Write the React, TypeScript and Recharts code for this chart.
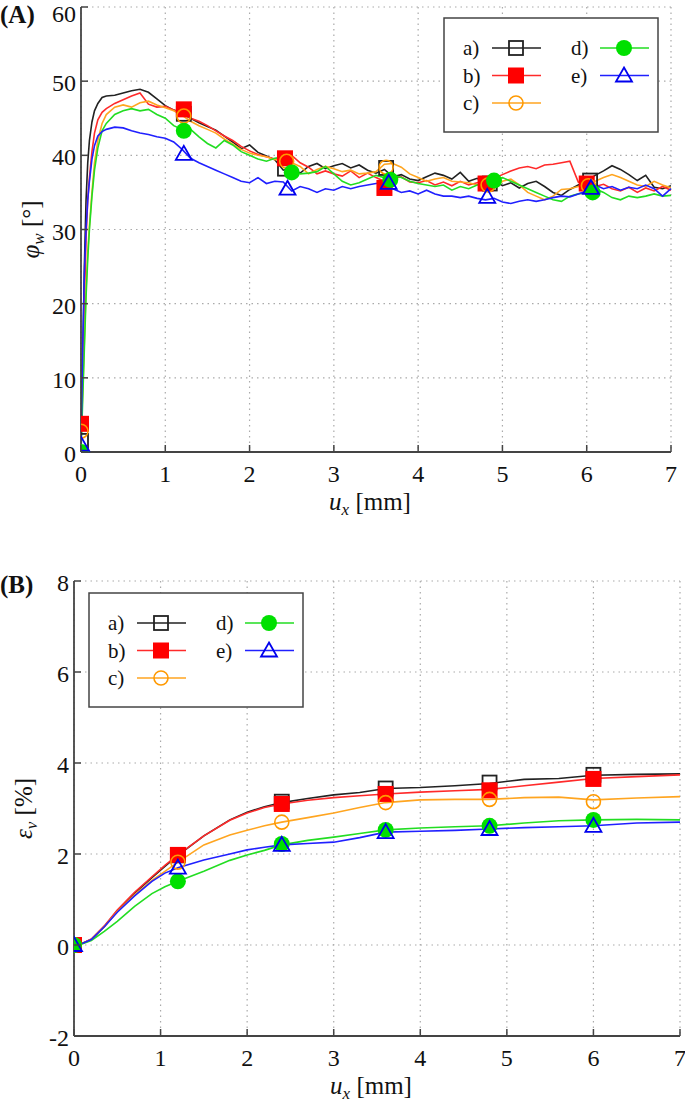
import React from "react";
import { ComposedChart, Line, Scatter, XAxis, YAxis, CartesianGrid, Legend, Label } from "recharts";

// ---- panel (A): wall friction angle vs. horizontal displacement ----
const uxA = [
  0, 0.02, 0.04, 0.06, 0.08, 0.1, 0.13, 0.16, 0.2, 0.25, 0.3,
  0.4, 0.5, 0.6, 0.7, 0.8, 0.9, 1.0,
  1.1, 1.2, 1.3, 1.4, 1.5, 1.6, 1.7, 1.8, 1.9, 2.0,
  2.1, 2.2, 2.3, 2.4, 2.5, 2.6, 2.7, 2.8, 2.9, 3.0,
  3.1, 3.2, 3.3, 3.4, 3.5, 3.6, 3.7, 3.8, 3.9, 4.0,
  4.1, 4.2, 4.3, 4.4, 4.5, 4.6, 4.7, 4.8, 4.9, 5.0,
  5.1, 5.2, 5.3, 5.4, 5.5, 5.6, 5.7, 5.8, 5.9, 6.0,
  6.1, 6.2, 6.3, 6.4, 6.5, 6.6, 6.7, 6.8, 6.9, 7.0,
];
const phiA_a = [
  1, 12, 25, 34, 39, 42, 44.5, 46, 47, 47.8, 48.0,
  48.1, 48.4, 48.7, 48.9, 48.5, 47.6, 46.7,
  46.1, 45.6, 45.0, 44.4, 43.9, 43.4, 42.6, 41.8, 40.9, 41.4,
  40.4, 39.9, 39.4, 38.0, 38.3, 37.6, 38.5, 38.9, 38.2, 38.6,
  38.9, 38.3, 38.7, 38.0, 37.6, 38.1, 37.1, 37.4, 36.8, 36.6,
  37.1, 37.6, 37.3, 36.8, 37.7, 36.5, 36.9, 36.2, 36.6, 35.9,
  36.3, 35.6, 36.2, 36.5, 35.8, 35.0, 34.6, 35.4, 36.0, 36.6,
  37.3, 37.9, 38.6, 38.1, 37.4, 36.6, 37.3, 35.7, 35.5, 35.9,
];
const phiA_b = [
  4, 10, 20, 29, 34, 37, 40.5, 43, 44.8, 45.8, 46.3,
  47.0, 47.5, 48.0, 48.4, 46.9, 46.5, 46.6,
  46.1, 45.8, 45.0, 44.6, 44.0, 43.3, 42.6, 42.0, 41.2, 40.6,
  40.1, 39.8, 39.5, 39.6, 40.0, 39.0, 38.4, 37.5, 37.9, 37.5,
  37.2, 37.9, 37.0, 37.6, 37.0, 36.5, 36.9, 37.1, 36.4, 36.3,
  36.6, 36.0, 36.4, 35.9, 36.5, 36.0, 36.3, 36.5, 36.9, 37.4,
  37.9, 38.3, 38.5, 38.2, 38.7, 38.8, 39.0, 39.2, 36.4, 36.0,
  35.8, 36.1, 35.5, 35.2, 35.7, 35.0, 35.6, 35.2, 35.8, 35.3,
];
const phiA_c = [
  2.5, 8, 15, 22, 27, 30.5, 35, 39, 42, 44.3, 45.5,
  46.5, 46.8, 46.5, 47.1, 47.3, 46.8, 46.4,
  46.0, 45.4, 44.6, 44.0, 43.5, 43.0, 42.2, 41.5, 40.8, 40.3,
  40.0, 39.8, 39.4, 39.5, 39.0, 38.5, 37.5, 38.1, 38.5, 38.2,
  37.8, 38.0, 37.5, 37.6, 37.8, 38.8, 38.9, 38.4, 37.5, 37.0,
  36.5, 36.8, 37.0, 36.5, 36.4, 36.3, 36.0, 35.8, 35.5, 36.5,
  36.8, 36.0, 35.0, 34.5, 34.0, 34.5, 35.4, 35.5, 35.8, 36.0,
  36.5, 37.0, 37.4, 37.0, 36.5, 36.0, 35.8, 36.5, 36.0, 35.6,
];
const phiA_d = [
  0, 7, 14, 21, 26, 30, 34.5, 38, 41, 43.3, 44.3,
  45.5, 46.0, 46.3, 46.0, 46.2, 45.5, 45.0,
  44.0, 43.5, 43.5, 42.5, 41.6, 41.0, 42.0, 41.4, 40.5, 40.0,
  39.5, 39.2, 39.6, 39.8, 38.0, 37.5, 37.6, 37.8, 38.5, 37.5,
  36.5, 36.0, 36.3, 36.8, 37.3, 37.0, 37.3, 37.0, 36.5, 36.2,
  36.0, 35.8, 36.0, 35.3, 35.8, 35.5, 36.0, 36.3, 36.6, 37.0,
  36.5, 36.0, 35.5, 35.0, 34.5, 34.0, 33.8, 34.5, 34.8, 35.0,
  35.5, 35.0, 34.3, 34.0, 34.5, 34.3, 34.5, 34.8, 34.5, 34.6,
];
const phiA_e = [
  1, 14, 24, 30, 34, 36.5, 39.5, 41.3, 42.6, 43.2, 43.5,
  43.8, 43.7, 43.3, 43.0, 42.8, 42.5, 42.3,
  41.8, 40.8, 39.6, 39.0, 38.5, 38.0, 37.5, 37.0, 36.5, 36.3,
  37.0, 36.2, 36.5, 36.4, 35.2, 35.8, 35.5, 35.0, 35.5, 35.3,
  35.8, 35.5, 35.8, 36.0, 36.2, 36.3, 35.5, 35.0, 35.2, 34.8,
  35.3, 34.8, 34.5, 34.5, 34.3, 34.5, 34.2, 34.0, 34.2, 33.7,
  33.5, 33.8, 34.0, 33.8, 34.0, 34.3, 34.5, 34.4, 34.8, 35.2,
  36.0, 35.5, 35.8, 35.3, 35.7, 35.5, 36.0, 35.5, 34.5, 35.5,
];

// marker positions in (A)
const markXA_a = [0, 1.22, 2.42, 3.62, 4.85, 6.04];
const markYA_a = [1.5, 45.6, 38.2, 38.3, 36.2, 36.6];
const markXA_b = [0, 1.22, 2.42, 3.6, 4.8, 6.0];
const markYA_b = [3.8, 46.2, 39.6, 35.6, 36.2, 36.2];
const markXA_c = [0, 1.22, 2.44, 3.62, 4.83, 6.02];
const markYA_c = [2.8, 45.3, 39.2, 38.4, 36.0, 35.9];
const markXA_d = [0, 1.22, 2.5, 3.67, 4.9, 6.07];
const markYA_d = [0, 43.3, 37.7, 36.7, 36.6, 35.0];
const markXA_e = [0, 1.22, 2.45, 3.65, 4.82, 6.05];
const markYA_e = [1.0, 40.2, 35.5, 36.3, 34.4, 35.6];

// ---- panel (B): volumetric strain vs. horizontal displacement ----
const uxB = [0, 0.1, 0.2, 0.35, 0.5, 0.7, 0.9, 1.05, 1.2, 1.5, 1.8, 2.0, 2.2, 2.4, 2.7, 3.0, 3.3, 3.6, 4.0, 4.4, 4.8, 5.2, 5.6, 6.0, 6.5, 7.0];
const epsB_a = [0, 0.04, 0.12, 0.4, 0.75, 1.14, 1.48, 1.73, 1.97, 2.4, 2.75, 2.92, 3.04, 3.13, 3.22, 3.3, 3.35, 3.44, 3.46, 3.5, 3.55, 3.64, 3.66, 3.73, 3.75, 3.76];
const epsB_b = [0, 0.04, 0.13, 0.42, 0.77, 1.16, 1.5, 1.75, 1.98, 2.4, 2.74, 2.9, 3.02, 3.1, 3.18, 3.24, 3.28, 3.32, 3.36, 3.39, 3.42, 3.5, 3.58, 3.66, 3.7, 3.74];
const epsB_c = [0, 0.04, 0.12, 0.4, 0.73, 1.1, 1.42, 1.62, 1.82, 2.2, 2.42, 2.52, 2.62, 2.7, 2.8, 2.9, 3.02, 3.13, 3.19, 3.2, 3.2, 3.24, 3.25, 3.19, 3.23, 3.26];
const epsB_d = [0, 0.03, 0.1, 0.3, 0.52, 0.85, 1.13, 1.28, 1.4, 1.62, 1.86, 1.98, 2.08, 2.2, 2.3, 2.37, 2.45, 2.53, 2.57, 2.6, 2.62, 2.68, 2.73, 2.75, 2.76, 2.75];
const epsB_e = [0, 0.04, 0.12, 0.4, 0.72, 1.08, 1.4, 1.58, 1.7, 1.87, 2.0, 2.09, 2.15, 2.2, 2.23, 2.26, 2.36, 2.48, 2.5, 2.52, 2.55, 2.58, 2.6, 2.62, 2.68, 2.7];

const markXB = [0, 1.2, 2.4, 3.6, 4.8, 6.0];
const markYB_a = [0, 1.97, 3.15, 3.44, 3.57, 3.74];
const markYB_b = [0, 1.98, 3.1, 3.32, 3.4, 3.65];
const markYB_c = [0, 1.82, 2.7, 3.13, 3.2, 3.15];
const markYB_d = [0, 1.4, 2.22, 2.53, 2.62, 2.75];
const markYB_e = [0, 1.7, 2.2, 2.48, 2.55, 2.62];

const xTicks = [0, 1, 2, 3, 4, 5, 6, 7];
const yTicksA = [0, 10, 20, 30, 40, 50, 60];
const yTicksB = [-2, 0, 2, 4, 6, 8];

const names = ["a)", "b)", "c)", "d)", "e)"];
const colors = ["#222222", "#ff2a2a", "#ffa520", "#22dd22", "#2020ff"];
const markFill = ["#222222", "#ff0000", "#ff9900", "#00e000", "#0000ee"];
const kinds = ["squareOpen", "square", "circleOpen", "circle", "triangleOpen"];

const SERIF = "Times New Roman, Liberation Serif, DejaVu Serif, Times, serif";
const AXIS = "#444";

const pts = (xs: number[], ys: number[]) => xs.map((x, i) => ({ x, y: ys[i] }));

const linesA = [phiA_a, phiA_b, phiA_c, phiA_d, phiA_e].map((ys) => pts(uxA, ys));
const marksA = [
  pts(markXA_a, markYA_a),
  pts(markXA_b, markYA_b),
  pts(markXA_c, markYA_c),
  pts(markXA_d, markYA_d),
  pts(markXA_e, markYA_e),
];
const linesB = [epsB_a, epsB_b, epsB_c, epsB_d, epsB_e].map((ys) => pts(uxB, ys));
const marksB = [markYB_a, markYB_b, markYB_c, markYB_d, markYB_e].map((ys) => pts(markXB, ys));

const Marker = ({ cx, cy, i }: { cx: number; cy: number; i: number }) => {
  const s = 8;
  const c = markFill[i];
  switch (kinds[i]) {
    case "square":
      return <rect x={cx - s} y={cy - s} width={2 * s} height={2 * s} fill={c} />;
    case "squareOpen":
      return <rect x={cx - s + 1} y={cy - s + 1} width={2 * s - 2} height={2 * s - 2} fill="none" stroke={c} strokeWidth={1.8} />;
    case "circle":
      return <circle cx={cx} cy={cy} r={s} fill={c} />;
    case "circleOpen":
      return <circle cx={cx} cy={cy} r={s - 1} fill="none" stroke={c} strokeWidth={1.6} />;
    default:
      return (
        <polygon
          points={`${cx},${cy - s} ${cx + s},${cy + 6} ${cx - s},${cy + 6}`}
          fill="none"
          stroke={c}
          strokeWidth={1.8}
        />
      );
  }
};

// ticks drawn inward, labels outside
const BottomTick = (props: any) => {
  const { x, y, payload } = props;
  const axisY = y - 10;
  return (
    <g>
      <line x1={x} x2={x} y1={axisY} y2={axisY - 7} stroke={AXIS} strokeWidth={1.5} />
      <text x={x} y={axisY + 30} textAnchor="middle" fontSize={24} fontFamily={SERIF} fill="#111">
        {payload.value}
      </text>
    </g>
  );
};
const LeftTick = (props: any) => {
  const { x, y, payload } = props;
  const axisX = x + 5;
  return (
    <g>
      <line x1={axisX} x2={axisX + 7} y1={y} y2={y} stroke={AXIS} strokeWidth={1.5} />
      <text x={x} y={Math.max(y + 10, 22)} textAnchor="end" fontSize={24} fontFamily={SERIF} fill="#111">
        {payload.value}
      </text>
    </g>
  );
};
const TopTick = (props: any) => {
  const { x, y } = props;
  return <line x1={x} x2={x} y1={y} y2={y + 7} stroke={AXIS} strokeWidth={1.5} />;
};
const RightTick = (props: any) => {
  const { x, y } = props;
  return <line x1={x} x2={x - 7} y1={y} y2={y} stroke={AXIS} strokeWidth={1.5} />;
};

const LegendBox = () => {
  const rows = [
    { i: 0, col: 0, row: 0 },
    { i: 1, col: 0, row: 1 },
    { i: 2, col: 0, row: 2 },
    { i: 3, col: 1, row: 0 },
    { i: 4, col: 1, row: 1 },
  ];
  return (
    <svg width={216} height={116} style={{ display: "block" }}>
      <rect x={1} y={1} width={214} height={114} fill="#fff" stroke={AXIS} strokeWidth={1.5} />
      {rows.map(({ i, col, row }) => {
        const ox = col * 108;
        const y = 31 + row * 27.5;
        return (
          <g key={i}>
            <text x={20 + ox} y={y + 7} fontSize={21} fontFamily={SERIF} fill="#111">
              {names[i]}
            </text>
            <line x1={49 + ox} x2={98 + ox} y1={y} y2={y} stroke={colors[i]} strokeWidth={1.6} />
            <Marker cx={73 + ox} cy={y} i={i} />
          </g>
        );
      })}
    </svg>
  );
};

type PanelProps = {
  width: number;
  height: number;
  margin: { top: number; right: number; bottom: number; left: number };
  lines: { x: number; y: number }[][];
  marks: { x: number; y: number }[][];
  yDomain: [number, number];
  yTicks: number[];
  yLabel: React.ReactNode;
  xLabel: string;
  legendPos: { left: number; top: number };
};

const Panel = ({ width, height, margin, lines, marks, yDomain, yTicks, yLabel, xLabel, legendPos }: PanelProps) => (
  <ComposedChart width={width} height={height} margin={margin}>
    <CartesianGrid stroke="#aaa" strokeDasharray="1.5 4" strokeWidth={1.2} />
    <XAxis
      xAxisId={0}
      type="number"
      dataKey="x"
      domain={[0, 7]}
      ticks={xTicks}
      interval={0}
      height={60}
      tickSize={0}
      tickMargin={10}
      tick={BottomTick}
      axisLine={{ stroke: AXIS, strokeWidth: 1.8 }}
      allowDataOverflow
    >
      <Label
        content={(p: any) => {
          const vb = p.viewBox;
          return (
            <text x={vb.x + vb.width / 2 - 6} y={vb.y + 58} textAnchor="middle" fontSize={25} fontFamily={SERIF} fill="#111">
              <tspan fontStyle="italic">u</tspan>
              <tspan fontStyle="italic" fontSize={17} dy={5}>x</tspan>
              <tspan dy={-5}>{xLabel}</tspan>
            </text>
          );
        }}
      />
    </XAxis>
    <XAxis
      xAxisId="top"
      orientation="top"
      type="number"
      dataKey="x"
      domain={[0, 7]}
      ticks={xTicks}
      interval={0}
      height={0}
      tickSize={0}
      tickMargin={0}
      tick={TopTick}
      axisLine={{ stroke: AXIS, strokeWidth: 1.8 }}
      allowDataOverflow
    />
    <YAxis
      yAxisId={0}
      type="number"
      domain={yDomain}
      ticks={yTicks}
      interval={0}
      width={60}
      tickSize={0}
      tickMargin={5}
      tick={LeftTick}
      axisLine={{ stroke: AXIS, strokeWidth: 1.8 }}
      allowDataOverflow
    >
      <Label
        content={(p: any) => {
          const vb = p.viewBox;
          const cx = vb.x + 18;
          const cy = vb.y + vb.height / 2;
          return (
            <text x={cx} y={cy} textAnchor="middle" fontSize={25} fontFamily={SERIF} fill="#111" transform={`rotate(-90, ${cx}, ${cy})`}>
              {yLabel}
            </text>
          );
        }}
      />
    </YAxis>
    <YAxis
      yAxisId="right"
      orientation="right"
      type="number"
      domain={yDomain}
      ticks={yTicks}
      interval={0}
      width={0}
      tickSize={0}
      tickMargin={0}
      tick={RightTick}
      axisLine={{ stroke: AXIS, strokeWidth: 1.8 }}
      allowDataOverflow
    />
    {lines.map((d, i) => (
      <Line
        key={`l${i}`}
        data={d}
        dataKey="y"
        type="linear"
        stroke={colors[i]}
        strokeWidth={1.6}
        dot={false}
        activeDot={false}
        isAnimationActive={false}
      />
    ))}
    {marks.map((d, i) => (
      <Scatter
        key={`m${i}`}
        data={d}
        dataKey="y"
        isAnimationActive={false}
        shape={(p: any) => <Marker cx={p.cx} cy={p.cy} i={i} />}
      />
    ))}
    <Legend
      layout="vertical"
      align="center"
      verticalAlign="middle"
      wrapperStyle={{ left: legendPos.left, top: legendPos.top, width: 216, height: 116 }}
      content={() => <LegendBox />}
    />
  </ComposedChart>
);

const panelLabel: React.CSSProperties = {
  position: "absolute",
  left: 0,
  fontFamily: SERIF,
  fontWeight: "bold",
  fontSize: 25,
  color: "#111",
  lineHeight: 1,
};

export default function App() {
  return (
    <div style={{ position: "absolute", left: 0, top: 0, width: 685, height: 1107, background: "#fff" }}>
      <div style={{ position: "absolute", left: 0, top: 0 }}>
        <Panel
          width={685}
          height={545}
          margin={{ top: 7, right: 14, bottom: 33, left: 21 }}
          lines={linesA}
          marks={marksA}
          yDomain={[0, 60]}
          yTicks={yTicksA}
          xLabel=" [mm]"
          yLabel={
            <>
              <tspan fontStyle="italic">φ</tspan>
              <tspan fontStyle="italic" fontSize={17} dy={5}>w</tspan>
              <tspan dy={-5}> [°]</tspan>
            </>
          }
          legendPos={{ left: 443, top: 17 }}
        />
      </div>
      <div style={{ position: "absolute", left: 0, top: 560 }}>
        <Panel
          width={685}
          height={547}
          margin={{ top: 21, right: 5, bottom: 11, left: 14 }}
          lines={linesB}
          marks={marksB}
          yDomain={[-2, 8]}
          yTicks={yTicksB}
          xLabel="  [mm]"
          yLabel={
            <>
              <tspan fontStyle="italic">ε</tspan>
              <tspan fontStyle="italic" fontSize={17} dy={5}>v</tspan>
              <tspan dy={-5}> [%]</tspan>
            </>
          }
          legendPos={{ left: 88, top: 32 }}
        />
      </div>
      <div style={{ ...panelLabel, top: 2 }}>(A)</div>
      <div style={{ ...panelLabel, top: 572 }}>(B)</div>
    </div>
  );
}
